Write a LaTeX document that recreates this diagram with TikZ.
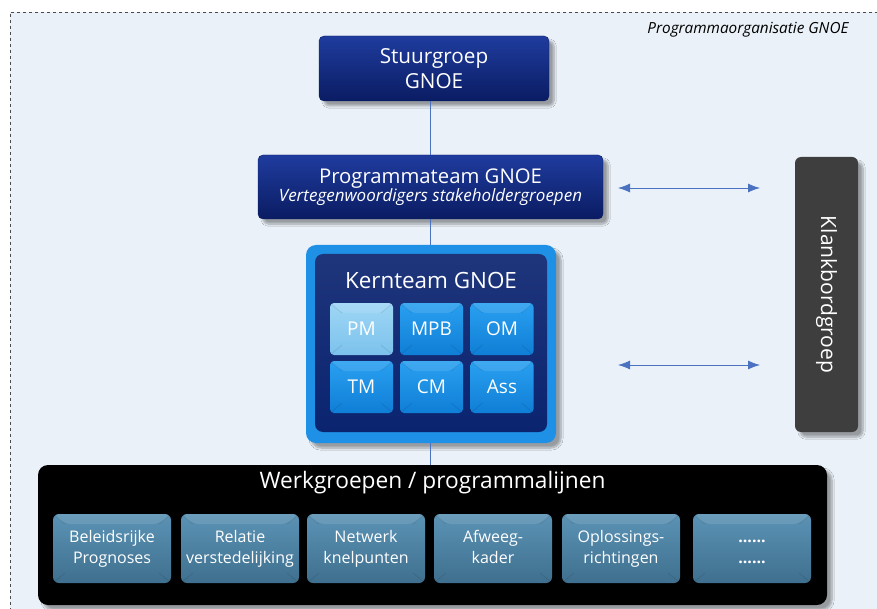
\documentclass[tikz,border=0pt]{standalone}
\usepackage{fontspec}
\setmainfont{Open Sans}
\usetikzlibrary{arrows.meta,shadows.blur,calc}
\definecolor{bgblue}{HTML}{EAF1F8}
\definecolor{navytop}{HTML}{1F3C9E}
\definecolor{navybot}{HTML}{0A1C62}
\definecolor{kernrim}{HTML}{1E90E6}
\definecolor{kerninner}{HTML}{0B2470}
\definecolor{tiletop}{HTML}{2AA0F0}
\definecolor{tilebot}{HTML}{0F7ED6}
\definecolor{pmtop}{HTML}{9ED6F5}
\definecolor{pmbot}{HTML}{7CC2EC}
\definecolor{wgtop}{HTML}{5B93B5}
\definecolor{wgbot}{HTML}{3F6F8E}
\definecolor{linkblue}{HTML}{4A72C0}
\definecolor{klank}{HTML}{3E3E3E}
\newcommand{\twolines}[2]{\raisebox{-3pt}{\begin{tabular}{@{}c@{}}#1\\#2\end{tabular}}}
\tikzset{
  shade/.style={blur shadow={shadow xshift=5pt,shadow yshift=-5pt,shadow blur steps=8,shadow opacity=35}},
  bevel/.style={path picture={
    \draw[black,opacity=0.08,line width=1pt]
      (path picture bounding box.north west) -- ++(12pt,-10pt)
      (path picture bounding box.north east) -- ++(-12pt,-10pt)
      (path picture bounding box.south west) -- ++(12pt,10pt)
      (path picture bounding box.south east) -- ++(-12pt,10pt);
    \fill[white,opacity=0.10] (path picture bounding box.north west) -- (path picture bounding box.north east) -- ++(-12pt,-10pt) -- ($(path picture bounding box.north west)+(12pt,-10pt)$) -- cycle;}},
  navybox/.style={rounded corners=5pt,top color=navytop,bottom color=navybot,draw=navybot,text=white,align=center,shade},
  tilebox/.style={rounded corners=4pt,top color=tiletop,bottom color=tilebot,draw=none,text=white,font=\fontsize{19}{21}\selectfont,minimum width=63pt,minimum height=52pt,inner sep=0pt,bevel},
  wgbox/.style={rounded corners=6pt,top color=wgtop,bottom color=wgbot,draw=none,text=white,font=\fontsize{16}{21.5}\selectfont,minimum width=118pt,minimum height=69pt,inner sep=0pt,bevel},
  link/.style={draw=linkblue,line width=0.8pt},
  twoway/.style={draw=linkblue,line width=0.8pt,{Latex[length=12pt,width=9pt]}-{Latex[length=12pt,width=9pt]}}
}
\begin{document}
\begin{tikzpicture}[x=1pt,y=-1pt]
\useasboundingbox (0,0) rectangle (877,609);
\fill[white] (0,0) rectangle (877,609);
\fill[bgblue] (10,12) rectangle (890,620);
\draw[black!70,dashed,line width=0.6pt] (890,12) -- (10,12) -- (10,620);
\node[anchor=east,font=\itshape\fontsize{15.3}{17}\selectfont] (title) at (852,30) {Programmaorganisatie GNOE};

% Stuurgroep
\node[navybox,minimum width=230pt,minimum height=65pt,font=\fontsize{20.7}{25}\selectfont] (stuur) at (434,68.5) {Stuurgroep\\GNOE};
% Programmateam
\node[navybox,minimum width=345pt,minimum height=64pt,inner sep=0pt] (prog) at (430.5,187) {{\fontsize{20.3}{23}\selectfont Programmateam GNOE}\\[-1pt]{\itshape\fontsize{17}{20}\selectfont Vertegenwoordigers stakeholdergroepen}};
% Klankbordgroep
\node[rounded corners=6pt,fill=klank,shade,minimum width=63pt,minimum height=275pt,inner sep=0pt] (klank) at (826.5,294.5) {};
\node[rotate=-90,text=white,font=\fontsize{21}{24}\selectfont] (klanktxt) at (klank.center) {Klankbordgroep};
% Kernteam
\node[rounded corners=10pt,fill=kernrim,shade,minimum width=250pt,minimum height=198pt,inner sep=0pt] (kern) at (431,344) {};
\node[rounded corners=8pt,top color=kerninner!92!white,bottom color=kerninner,minimum width=232pt,minimum height=178pt,inner sep=0pt] (kerninner) at (431,343) {};
\node[text=white,font=\fontsize{22.4}{26}\selectfont] (kerntitle) at (431,280) {Kernteam GNOE};
\node[tilebox,top color=pmtop,bottom color=pmbot] (pm) at (361.5,329) {PM};
\node[tilebox] (mpb) at (431.5,329) {MPB};
\node[tilebox] (om) at (502,329) {OM};
\node[tilebox] (tm) at (361.5,387) {TM};
\node[tilebox] (cm) at (431.5,387) {CM};
\node[tilebox] (ass) at (502,387) {Ass};
% Werkgroepen
\node[rounded corners=10pt,fill=black,shade,minimum width=789pt,minimum height=140pt,inner sep=0pt] (werk) at (432.5,535) {};
\node[text=white,font=\fontsize{22.7}{26}\selectfont] (werktitle) at (432.5,483) {Werkgroepen / programmalijnen};
\node[wgbox] (w1) at (112,548.5) {\twolines{Beleidsrijke}{Prognoses}};
\node[wgbox] (w2) at (240,548.5) {\twolines{Relatie}{verstedelijking}};
\node[wgbox] (w3) at (366,548.5) {\twolines{Netwerk}{knelpunten}};
\node[wgbox] (w4) at (493,548.5) {\twolines{Afweeg-}{kader}};
\node[wgbox] (w5) at (621,548.5) {\twolines{Oplossings-}{richtingen}};
\node[wgbox] (w6) at (752,548.5) {\twolines{\textbf{......}}{\textbf{......}}};

% connectors
\draw[link] (stuur.south -| 430,0) -- (prog.north -| 430,0);
\draw[link] (prog.south -| 430,0) -- (kern.north -| 430,0);
\draw[link] (kern.south -| 430,0) -- (werk.north -| 430,0);
\coordinate (a1) at (618,188);
\coordinate (b1) at (760,188);
\coordinate (a2) at (618,365);
\coordinate (b2) at (760,365);
\draw[twoway] (a1) -- (b1);
\draw[twoway] (a2) -- (b2);
\end{tikzpicture}
\end{document}
